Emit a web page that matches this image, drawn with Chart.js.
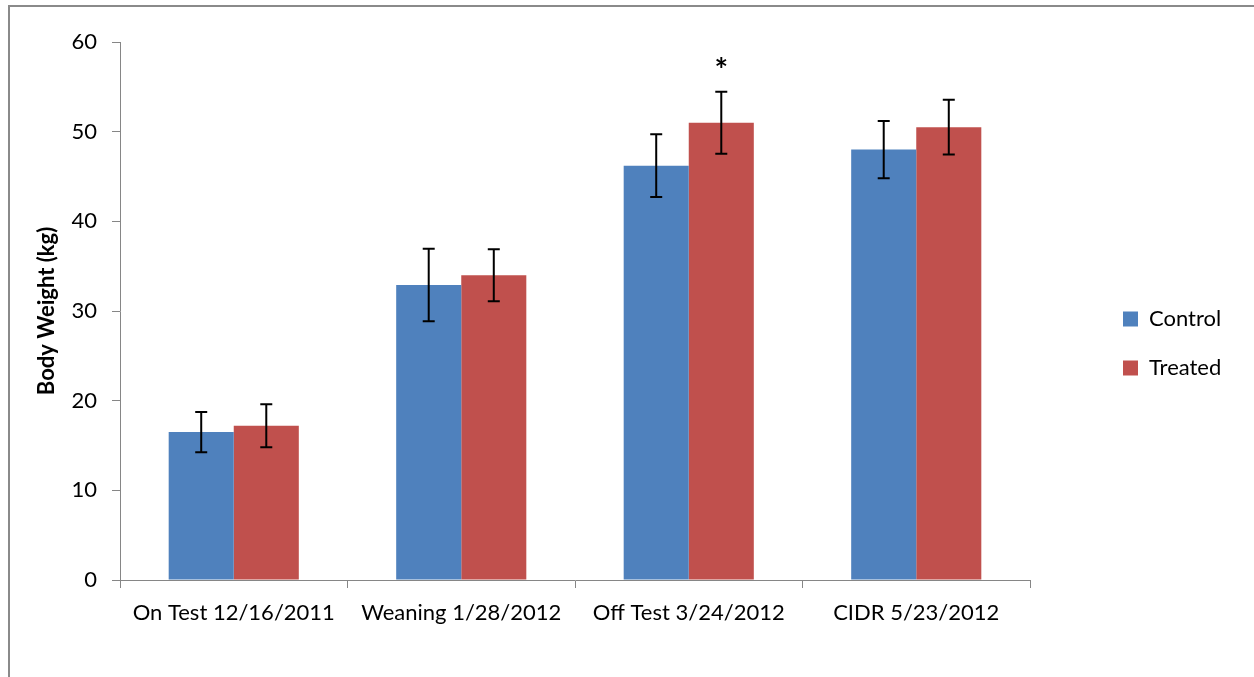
<!DOCTYPE html>
<html>
<head>
<meta charset="utf-8">
<script src="https://cdn.jsdelivr.net/npm/chart.js@4.4.1/dist/chart.umd.min.js"></script>
<style>
  body { margin: 0; background: #fff; }
  canvas { display: block; }
</style>
</head>
<body>
<canvas id="weight" width="1254" height="677"></canvas>
<script>
const categories = ["On Test 12/16/2011", "Weaning 1/28/2012", "Off Test 3/24/2012", "CIDR 5/23/2012"];
const controlValues = [16.5, 32.9, 46.2, 48.0];
const treatedValues = [17.2, 34.0, 51.0, 50.5];
const controlErrors = [2.25, 4.05, 3.5, 3.2];
const treatedErrors = [2.4, 2.9, 3.45, 3.05];
const treatedMarks = ["", "", "*", ""];
const yTicks = [0, 10, 20, 30, 40, 50, 60];

const FONT = "Lato";

// error bars + significance star, drawn from the bar elements and the y scale
const errorBars = {
    id: "errorBars",
    afterDatasetsDraw(chart) {
        const ctx = chart.ctx;
        const y = chart.scales.y;
        chart.data.datasets.forEach((ds, i) => {
            const meta = chart.getDatasetMeta(i);
            meta.data.forEach((bar, j) => {
                const v = ds.data[j], e = ds.errors[j];
                const top = y.getPixelForValue(v + e);
                const bot = y.getPixelForValue(v - e);
                ctx.save();
                ctx.strokeStyle = "#000";
                ctx.lineWidth = 2;
                ctx.beginPath();
                ctx.moveTo(bar.x, top); ctx.lineTo(bar.x, bot);
                ctx.moveTo(bar.x - 6, top); ctx.lineTo(bar.x + 6, top);
                ctx.moveTo(bar.x - 6, bot); ctx.lineTo(bar.x + 6, bot);
                ctx.stroke();
                if (ds.marks && ds.marks[j]) {
                    ctx.fillStyle = "#000";
                    ctx.font = "bold 32px " + FONT;
                    ctx.textAlign = "center";
                    ctx.textBaseline = "middle";
                    ctx.fillText(ds.marks[j], bar.x, top - 20);
                }
                ctx.restore();
            });
        });
    }
};

// outer frame and legend placement
const frame = {
    id: "frame",
    beforeLayout(chart) {
        const lg = chart.legend;
        if (lg && !lg._patched) {
            const fit = lg.fit;
            lg.fit = function () { fit.call(this); this.width = 224; };
            lg._patched = true;
        }
    },
    afterLayout(chart) {
        const lg = chart.legend;
        lg.left = 1096; lg.right = 1254;
        lg.top -= 16; lg.bottom -= 16;
    },
    beforeDraw(chart) {
        const ctx = chart.ctx;
        ctx.save();
        ctx.fillStyle = "#fff";
        ctx.fillRect(0, 0, chart.width, chart.height);
        ctx.strokeStyle = "#8a8a8a";
        ctx.lineWidth = 2;
        ctx.strokeRect(9, 6, 1300, 720);
        ctx.restore();
    }
};

new Chart(document.getElementById("weight"), {
    type: "bar",
    data: {
        labels: categories,
        datasets: [{
            label: "Control",
            backgroundColor: "#4f81bd",
            data: controlValues,
            errors: controlErrors
        },
        {
            label: "Treated",
            backgroundColor: "#c0504d",
            data: treatedValues,
            errors: treatedErrors,
            marks: treatedMarks
        }]
    },
    options: {
        responsive: false,
        animation: false,
        categoryPercentage: 0.572,
        barPercentage: 1.0,
        layout: { padding: { left: 30, top: 42, right: 0, bottom: 0 } },
        plugins: {
            tooltip: { enabled: false },
            legend: {
                position: "right",
                labels: {
                    boxWidth: 15,
                    boxHeight: 15,
                    padding: 27,
                    color: "#000",
                    font: { family: FONT, size: 22 }
                }
            }
        },
        scales: {
            x: {
                afterFit: s => { s.height = 97; },
                grid: { drawOnChartArea: false, tickLength: 8, color: "#868686", offset: true },
                border: { color: "#868686", width: 1 },
                ticks: { color: "#000", padding: 12, font: { family: FONT, size: 22 }, maxRotation: 0 }
            },
            y: {
                min: 0,
                max: 60,
                afterFit: s => { s.width = 90; },
                afterBuildTicks: s => { s.ticks = yTicks.map(v => ({ value: v })); },
                grid: { drawOnChartArea: false, tickLength: 8, color: "#868686" },
                border: { color: "#868686", width: 1 },
                ticks: { color: "#000", padding: 15, font: { family: FONT, size: 22 } },
                title: {
                    display: true,
                    text: "Body Weight (kg)",
                    color: "#000",
                    font: { family: FONT, size: 22, weight: "bold" }
                }
            }
        }
    },
    plugins: [errorBars, frame]
});
</script>
</body>
</html>
